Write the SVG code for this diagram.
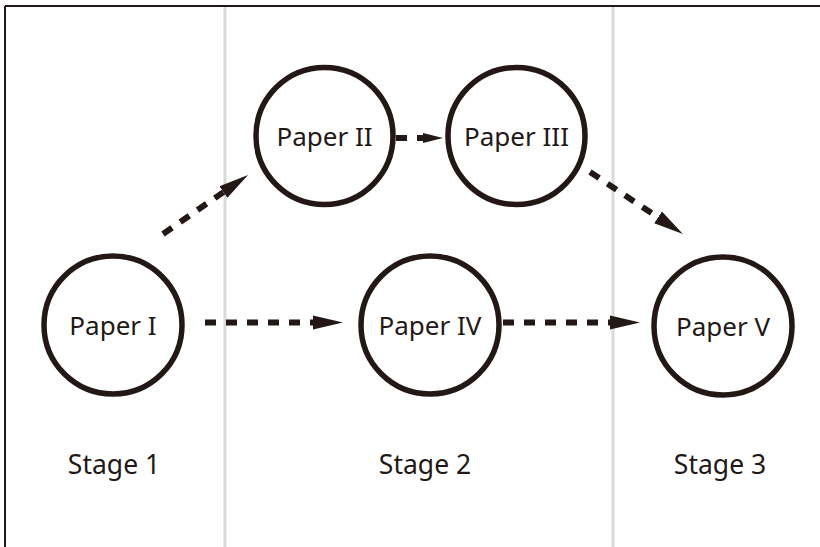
<svg xmlns="http://www.w3.org/2000/svg" width="820" height="547" viewBox="0 0 820 547">
<defs>
<style>
.node circle{fill:#fff;stroke:#231815;stroke-width:5.5}
.node text,.stage{font-family:"Noto Sans","Open Sans",sans-serif;font-size:26px;fill:#231815;text-anchor:middle}
.stage{font-size:26.5px}
.conn{stroke:#231815;stroke-width:6;stroke-dasharray:11 10;fill:none}
.lane{stroke:#d9d9d9;stroke-width:3}
</style>
<marker id="ah" markerUnits="userSpaceOnUse" markerWidth="30" markerHeight="16" viewBox="0 0 30 16" refX="0" refY="8" orient="auto">
<path d="M0,1 L30,8 L0,15 Z" fill="#231815"/>
</marker>
<marker id="ahs" markerUnits="userSpaceOnUse" markerWidth="20" markerHeight="12" viewBox="0 0 20 12" refX="0" refY="6" orient="auto">
<path d="M0,1 L20,6 L0,11 Z" fill="#231815"/>
</marker>
</defs>
<rect width="820" height="547" fill="#fff"/>
<g id="frame">
<line class="lane" x1="225" y1="7" x2="225" y2="547"/>
<line class="lane" x1="613" y1="7" x2="613" y2="547"/>
<line x1="5" y1="6" x2="820" y2="6" stroke="#231815" stroke-width="2"/>
<line x1="5" y1="6" x2="5" y2="547" stroke="#231815" stroke-width="2"/>
</g>
<g id="connectors">
<line class="conn" x1="205" y1="322.5" x2="313" y2="322.5" marker-end="url(#ah)"/>
<line class="conn" x1="503" y1="322.5" x2="610" y2="322.5" marker-end="url(#ah)"/>
<line class="conn" x1="163" y1="234" x2="223.4" y2="192.1" marker-end="url(#ah)"/>
<line class="conn" x1="396" y1="138" x2="423" y2="138" marker-end="url(#ahs)"/>
<line class="conn" x1="590" y1="172" x2="658" y2="217.4" marker-end="url(#ah)"/>
</g>
<g id="paper1" class="node"><circle cx="113" cy="325" r="69"/><text x="113" y="335">Paper I</text></g>
<g id="paper2" class="node"><circle cx="324.5" cy="136" r="68.5"/><text x="324.5" y="146">Paper II</text></g>
<g id="paper3" class="node"><circle cx="516.5" cy="136" r="68.5"/><text x="516.5" y="146">Paper III</text></g>
<g id="paper4" class="node"><circle cx="430" cy="325" r="69"/><text x="430" y="335">Paper IV</text></g>
<g id="paper5" class="node"><circle cx="723" cy="326" r="69"/><text x="723" y="336">Paper V</text></g>
<g id="stages">
<text class="stage" x="114" y="474">Stage 1</text>
<text class="stage" x="425" y="474">Stage 2</text>
<text class="stage" x="720" y="474">Stage 3</text>
</g>
</svg>
